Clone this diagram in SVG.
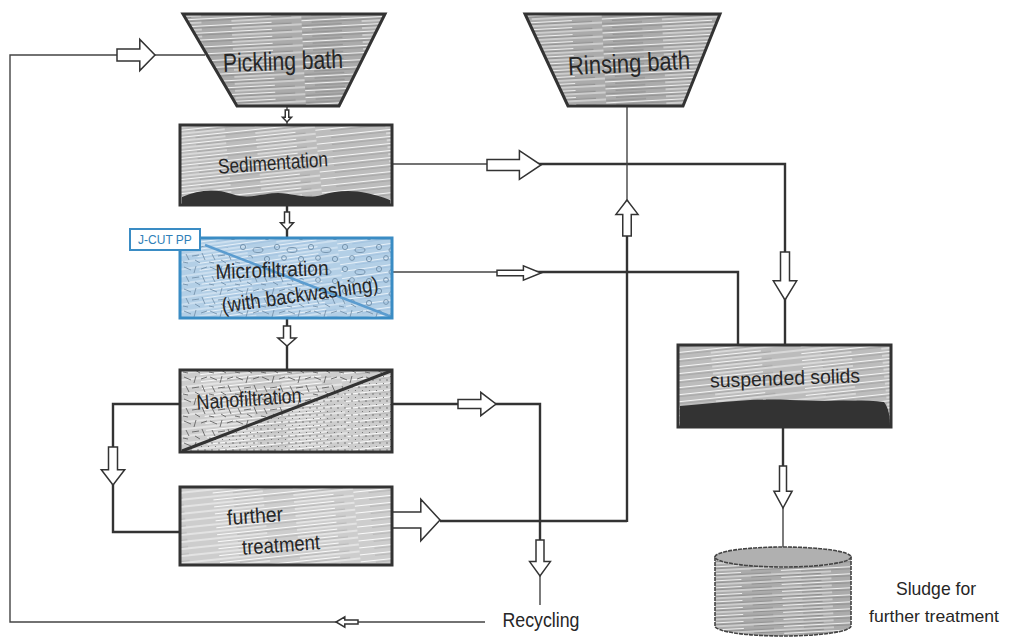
<svg xmlns="http://www.w3.org/2000/svg" width="1009" height="639" viewBox="0 0 1009 639">
<style>
.lbl{font-family:"Liberation Sans Narrow","Liberation Sans",sans-serif;fill:#262626;}
.box{stroke:#333;stroke-width:3;}
.ln{fill:none;stroke:#333;stroke-width:2.4;stroke-linejoin:miter;}
.thin{fill:none;stroke:#444;stroke-width:1.4;}
.arw{fill:#fff;stroke:#333;stroke-width:1.5;}
</style>
<defs>
<pattern id="hatchDark" width="300" height="7" patternUnits="userSpaceOnUse" patternTransform="rotate(-3)">
<rect width="300" height="7" fill="#ababab"/>
<path d="M0 1.5 H110 M150 1.5 H270 M60 5 H200 M230 5 H300" stroke="#efefef" stroke-width="1.1"/>
<path d="M10 3.3 H140 M170 3.3 H290 M0 6.3 H40 M120 6.5 H190" stroke="#7a7a7a" stroke-width="0.6"/>
</pattern>
<pattern id="hatch" width="300" height="7" patternUnits="userSpaceOnUse" patternTransform="rotate(-6)">
<rect width="300" height="7" fill="#bcbcbc"/>
<path d="M0 1.5 H120 M160 1.5 H280 M70 5 H210 M240 5 H300" stroke="#f5f5f5" stroke-width="1.2"/>
<path d="M15 3.3 H130 M180 3.3 H290" stroke="#8c8c8c" stroke-width="0.5"/>
</pattern>
<pattern id="hatchLight" width="300" height="7" patternUnits="userSpaceOnUse" patternTransform="rotate(-6)">
<rect width="300" height="7" fill="#cdcdcd"/>
<path d="M0 1.5 H120 M160 1.5 H280 M70 5 H210 M240 5 H300" stroke="#fafafa" stroke-width="1.2"/>
<path d="M15 3.3 H130 M180 3.3 H290" stroke="#9c9c9c" stroke-width="0.5"/>
</pattern>
<pattern id="hatchBlue" width="300" height="7" patternUnits="userSpaceOnUse" patternTransform="rotate(-8)">
<rect width="300" height="7" fill="#b3cfe6"/>
<path d="M0 1.5 H120 M160 1.5 H280 M70 5 H210 M240 5 H300" stroke="#e6f0f8" stroke-width="1.2"/>
<path d="M15 3.3 H130 M180 3.3 H290" stroke="#8fb5d6" stroke-width="0.5"/>
</pattern>
<pattern id="dashes" width="26" height="22" patternUnits="userSpaceOnUse">
<path d="M2 3 L9 6 M14 2 L12 9 M19 5 L25 3 M4 12 L7 18 M10 14 L17 13 M20 11 L23 18 M1 20 L6 21 M13 18 L18 21" stroke="#555" stroke-width="0.8" fill="none"/>
</pattern>
<pattern id="dashesBlue" width="26" height="22" patternUnits="userSpaceOnUse">
<path d="M2 3 L9 6 M14 2 L12 9 M19 5 L25 3 M4 12 L7 18 M10 14 L17 13 M20 11 L23 18 M1 20 L6 21 M13 18 L18 21" stroke="#6d8aa3" stroke-width="0.8" fill="none"/>
</pattern>
<pattern id="dots" width="7" height="7" patternUnits="userSpaceOnUse">
<circle cx="2" cy="2" r="0.7" fill="#555"/>
<circle cx="5.5" cy="5.5" r="0.6" fill="#666"/>
</pattern>
<pattern id="bubbles" width="34" height="22" patternUnits="userSpaceOnUse">
<circle cx="5" cy="5" r="2.6" fill="none" stroke="#6f8ea8" stroke-width="0.9"/>
<ellipse cx="20" cy="8" rx="5" ry="2.5" fill="none" stroke="#6f8ea8" stroke-width="0.9"/>
<circle cx="12" cy="16" r="2.4" fill="none" stroke="#6f8ea8" stroke-width="0.9"/>
<circle cx="29" cy="17" r="2.6" fill="none" stroke="#6f8ea8" stroke-width="0.9"/>
</pattern>
<path id="arrow" d="M-20,-5 L4,-5 L4,-13 L20,0 L4,13 L4,5 L-20,5 Z" class="arw" vector-effect="non-scaling-stroke"/>
</defs>
<rect width="1009" height="639" fill="#fff"/>

<g id="connectors">
<path class="thin" d="M205,55 H10 V622 H485"/>
<path class="thin" d="M287,106 V125"/>
<path class="ln" d="M287,205 V238"/>
<path class="thin" d="M392,164 H490"/>
<path class="ln" d="M490,164 H785 V345"/>
<path class="ln" d="M287,318 V370"/>
<path class="thin" d="M392,272 H500"/>
<path class="ln" d="M500,272 H738 V345"/>
<path class="thin" d="M627,106 V200"/>
<path class="ln" d="M627,200 V522"/>
<path class="ln" d="M180,404 H113 V532 H180"/>
<path class="ln" d="M392,404 H540 V540"/>
<path class="thin" d="M540,540 V605"/>
<path class="ln" d="M440,521 H627"/>
<path class="ln" d="M783,427 V470"/>
<path class="thin" d="M783,470 V550"/>
<use href="#arrow" transform="translate(136,55) scale(0.95,1.2)"/>
<use href="#arrow" transform="translate(514,165) scale(1.35,1.1)"/>
<use href="#arrow" transform="translate(287,116) rotate(90) scale(0.3,0.35)"/>
<use href="#arrow" transform="translate(287,221) rotate(90) scale(0.45,0.5)"/>
<use href="#arrow" transform="translate(287,336) rotate(90) scale(0.5,0.7)"/>
<use href="#arrow" transform="translate(627,218) rotate(-90) scale(0.9,0.85)"/>
<use href="#arrow" transform="translate(785,276) rotate(90) scale(1.2,0.9)"/>
<use href="#arrow" transform="translate(519,273) scale(1.1,0.55)"/>
<use href="#arrow" transform="translate(477,404) scale(0.95,0.9)"/>
<use href="#arrow" transform="translate(113,466) rotate(90) scale(0.95,0.9)"/>
<use href="#arrow" transform="translate(416,520) scale(1.2,1.6)"/>
<use href="#arrow" transform="translate(540,558) rotate(90) scale(0.9,0.8)"/>
<use href="#arrow" transform="translate(347,622) rotate(180) scale(0.55,0.4)"/>
<use href="#arrow" transform="translate(783,487) rotate(90) scale(1.05,0.7)"/>
</g>

<g id="pickling-bath">
<path class="box" d="M183,14 L385,14 L339,106 L237,106 Z" fill="url(#hatchDark)"/>
<text class="lbl" x="283" y="70" font-size="26" text-anchor="middle" textLength="120" lengthAdjust="spacingAndGlyphs" transform="rotate(-2 283 62)">Pickling bath</text>
</g>

<g id="rinsing-bath">
<path class="box" d="M525,14 L720,14 L683,106 L568,106 Z" fill="url(#hatchDark)"/>
<text class="lbl" x="629" y="72" font-size="26" text-anchor="middle" textLength="122" lengthAdjust="spacingAndGlyphs" transform="rotate(-3 629 64)">Rinsing bath</text>
</g>

<g id="sedimentation">
<rect class="box" x="180" y="125" width="212" height="80" fill="url(#hatch)"/>
<path d="M182,204 L182,197 C198,190 214,188 232,194 C250,200 262,193 278,193 C296,194 306,199 322,195 C342,189 362,189 390,200 L390,204 Z" fill="#333"/>
<text class="lbl" x="273" y="170" font-size="21" text-anchor="middle" textLength="110" lengthAdjust="spacingAndGlyphs" transform="rotate(-4 273 163)">Sedimentation</text>
</g>

<g id="microfiltration">
<rect x="180" y="238" width="212" height="80" fill="url(#hatchBlue)"/>
<path d="M180,246 L205,246 L392,318 L180,318 Z" fill="url(#dashesBlue)"/>
<path d="M205,238 L392,238 L392,318 Z" fill="url(#bubbles)"/>
<path d="M205,245 L392,317" stroke="#5b9ccf" stroke-width="2.5" fill="none"/>
<rect x="180" y="238" width="212" height="80" fill="none" stroke="#3a8cc4" stroke-width="3"/>
<rect x="130" y="229" width="70" height="21" fill="#fff" stroke="#3a8cc4" stroke-width="2"/>
<text x="165" y="244" font-size="12" text-anchor="middle" font-family="Liberation Sans Narrow,Liberation Sans,sans-serif" fill="#2f7fb8">J-CUT PP</text>
<text class="lbl" x="272" y="277" font-size="21" text-anchor="middle" textLength="113" lengthAdjust="spacingAndGlyphs" transform="rotate(-2 272 270)">Microfiltration</text>
<text class="lbl" x="300" y="302" font-size="21" text-anchor="middle" textLength="158" lengthAdjust="spacingAndGlyphs" transform="rotate(-8 300 295)">(with backwashing)</text>
</g>

<g id="nanofiltration">
<rect x="180" y="370" width="212" height="82" fill="url(#hatchLight)"/>
<path d="M180,370 L392,370 L180,452 Z" fill="url(#dashes)"/>
<path d="M392,370 L392,452 L180,452 Z" fill="url(#dots)"/>
<path d="M182,451 L391,371" stroke="#333" stroke-width="3" fill="none"/>
<rect class="box" x="180" y="370" width="212" height="82" fill="none"/>
<text class="lbl" x="249" y="406" font-size="21" text-anchor="middle" textLength="105" lengthAdjust="spacingAndGlyphs" transform="rotate(-4 249 399)">Nanofiltration</text>
</g>

<g id="further-treatment">
<rect class="box" x="180" y="487" width="212" height="78" fill="url(#hatchLight)"/>
<text class="lbl" x="255" y="523" font-size="21" text-anchor="middle" textLength="56" lengthAdjust="spacingAndGlyphs" transform="rotate(-4 255 516)">further</text>
<text class="lbl" x="281" y="552" font-size="21" text-anchor="middle" textLength="78" lengthAdjust="spacingAndGlyphs" transform="rotate(-4 281 545)">treatment</text>
</g>

<g id="suspended-solids">
<rect class="box" x="678" y="345" width="213" height="82" fill="url(#hatch)"/>
<path d="M680,426 L680,406 C720,403 750,398 790,400 C830,402 860,399 884,402 C889,408 890,418 890,426 Z" fill="#333"/>
<text class="lbl" x="785" y="385" font-size="20" text-anchor="middle" textLength="150" lengthAdjust="spacingAndGlyphs" transform="rotate(-2 785 378)">suspended solids</text>
</g>

<g id="sludge">
<path d="M715,557 L715,626 A68,10 0 0 0 851,626 L851,557 Z" fill="url(#hatchDark)" stroke="#444" stroke-width="1.6" stroke-dasharray="4 1"/>
<ellipse cx="783" cy="557" rx="68" ry="10" fill="#b0b0b0" stroke="#444" stroke-width="1.6" stroke-dasharray="4 1"/>
<text class="lbl" x="936" y="595" font-size="19" text-anchor="middle" textLength="80" lengthAdjust="spacingAndGlyphs">Sludge for</text>
<text class="lbl" x="934" y="622" font-size="17" text-anchor="middle" textLength="130" lengthAdjust="spacingAndGlyphs">further treatment</text>
</g>

<g id="recycling">
<text class="lbl" x="541" y="627" font-size="20" text-anchor="middle" textLength="77" lengthAdjust="spacingAndGlyphs">Recycling</text>
</g>
</svg>
